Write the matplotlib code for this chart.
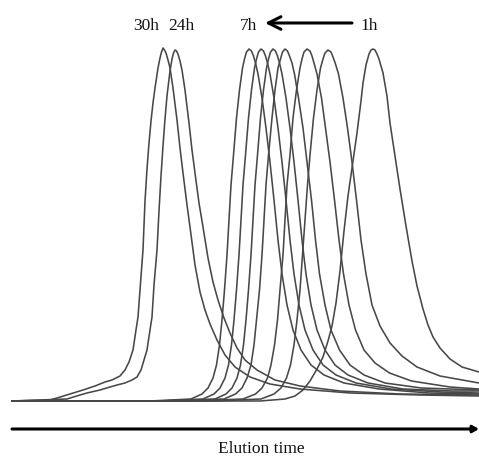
import matplotlib
matplotlib.use("Agg")
import matplotlib.pyplot as plt

# Elution time (arbitrary units) and detector signal (arbitrary units)
t_30h = [12, 50, 57, 70, 83, 95, 105, 112, 120, 125, 129, 133, 136, 138, 140, 143, 145, 147, 149, 151, 153, 155, 158, 160, 161.5, 163,
         164.5, 166, 168, 170, 173, 177, 180, 183, 187, 190, 195, 200, 205, 210, 217, 225, 235, 250, 270, 300, 350, 420, 479]
s_30h = [0, 1, 3, 7, 11, 15, 19, 21, 25, 31, 39, 51, 71, 84, 111, 151, 200, 232, 258, 280, 298, 313, 333, 343, 349, 353,
         351, 348, 341, 333, 313, 281, 253, 228, 196, 174, 136, 109, 91, 77, 61, 46, 34, 24, 17, 12, 8, 6, 5]

t_24h = [12, 67, 80, 87, 100, 110, 117, 125, 132, 137, 141, 144, 147, 150, 152, 154, 157, 159, 161, 163, 165, 167, 170, 172, 173.5, 175,
         176.5, 178, 180, 182, 185, 189, 192, 195, 199, 203, 208, 213, 218, 224, 230, 237, 245, 257, 275, 300, 340, 400, 479]
s_24h = [0, 2, 6, 8, 11, 14, 16, 18, 21, 24, 31, 41, 51, 71, 84, 116, 151, 190, 225, 255, 282, 305, 330, 342, 348, 351,
         350, 347, 340, 331, 311, 278, 251, 228, 198, 174, 143, 119, 101, 83, 68, 53, 41, 31, 21, 15, 10, 7, 6]

t_7h = [12, 150, 191, 202, 208, 213, 216.5, 219.5, 222, 224.5, 227, 229, 231, 233.5, 236.5, 239.5, 242.5, 244.5, 246.5, 249,
        251.5, 253.5, 255.5, 258, 262, 266, 270, 274, 278, 282, 287, 293, 301, 311, 324, 344, 379, 429, 479]
s_7h = [0, 0, 2, 7, 13, 23, 36, 56, 81, 111, 146, 181, 216, 246, 283, 311, 333, 342, 349, 352,
        350, 345, 338, 327, 303, 273, 239, 201, 161, 127, 96, 71, 51, 36, 26, 18, 12, 8, 7]

t_6h = [12, 160, 203, 214, 220, 225, 228.5, 231.5, 234, 236.5, 239, 241, 243, 245.5, 248.5, 251.5, 254.5, 256.5, 258.5, 261,
        263.5, 265.5, 267.5, 270, 274, 278, 282, 286, 290, 294, 299, 305, 313, 323, 336, 356, 391, 441, 479]
s_6h = [0, 0, 2, 7, 13, 23, 36, 56, 81, 111, 146, 181, 216, 246, 283, 311, 333, 342, 349, 352,
        350, 345, 338, 327, 303, 273, 239, 201, 161, 127, 96, 71, 51, 36, 26, 18, 12, 9, 8]

t_5h = [12, 170, 215, 226, 232, 237, 240.5, 243.5, 246, 248.5, 251, 253, 255, 257.5, 260.5, 263.5, 266.5, 268.5, 270.5, 273,
        275.5, 277.5, 279.5, 282, 286, 290, 294, 298, 302, 306, 311, 317, 325, 335, 348, 368, 403, 453, 479]
s_5h = [0, 0, 2, 7, 13, 23, 36, 56, 81, 111, 146, 181, 216, 246, 283, 311, 333, 342, 349, 352,
        350, 345, 338, 327, 303, 273, 239, 201, 161, 127, 96, 71, 51, 36, 26, 18, 12, 10, 10]

t_4h = [12, 180, 224, 235.5, 242, 247, 251, 254, 256.5, 259.5, 262, 264, 266, 268.5, 272, 275, 278, 280.5, 282.5, 285,
        287.5, 289.5, 292, 294.5, 298.5, 303, 307, 311.5, 315.5, 319.5, 325, 331, 339.5, 350, 364, 385, 421.5, 479]
s_4h = [0, 0, 2, 7, 13, 23, 36, 56, 81, 111, 146, 181, 216, 246, 283, 311, 333, 342, 349, 352,
        350, 345, 338, 327, 303, 273, 239, 201, 161, 127, 96, 71, 51, 36, 26, 18, 13, 11]

t_3h = [12, 195, 243, 255.5, 262, 267.5, 271, 274.5, 277.5, 280, 283, 285, 287, 290, 293, 296.5, 300, 302, 304, 307,
        310, 312, 314, 317, 321.5, 325.5, 330, 334.5, 339, 343.5, 349, 355.5, 364, 375, 389.5, 411.5, 450, 479]
s_3h = [0, 0, 2, 7, 13, 23, 36, 56, 81, 111, 146, 181, 216, 246, 283, 311, 333, 342, 349, 352,
        350, 345, 338, 327, 303, 273, 239, 201, 161, 127, 96, 71, 51, 38, 28, 20, 14, 12]

t_2h = [12, 215, 261, 274, 281, 286.5, 290.5, 294, 297, 300, 302.5, 305, 307.5, 310, 313.5, 317, 320.5, 323, 325, 328,
        331, 333, 335.5, 338.5, 343, 347.5, 352, 356.5, 361, 366, 372, 380, 390, 402, 417, 440, 479]
s_2h = [0, 0, 2, 7, 13, 23, 36, 56, 81, 111, 146, 181, 216, 246, 283, 311, 333, 342, 348, 351,
        349, 344, 337, 327, 303, 273, 239, 201, 161, 127, 96, 75, 58, 45, 34, 25, 18]

t_1h = [12, 260, 285, 295, 303, 310, 317, 323, 328, 332, 336, 340, 344, 348, 353, 357, 361, 363, 366, 369, 371, 373,
        375, 377, 379, 383, 387, 390, 395, 400, 406, 412, 417, 423, 428, 433, 440, 450, 462, 479]
s_1h = [0, 0, 2, 5, 11, 20, 32, 44, 60, 75, 98, 130, 170, 205, 240, 268, 300, 318, 336, 347, 351, 352,
        351, 347, 342, 328, 305, 278, 245, 212, 175, 140, 115, 92, 76, 64, 53, 42, 34, 29]

series_t = [t_30h, t_24h, t_7h, t_6h, t_5h, t_4h, t_3h, t_2h, t_1h]
series_s = [s_30h, s_24h, s_7h, s_6h, s_5h, s_4h, s_3h, s_2h, s_1h]

peak_labels = ["30h", "24h", "7h", "1h"]
label_pos = [146, 181, 249, 369]
axis_title = "Elution time"

fig = plt.figure(figsize=(4.79, 4.57), dpi=100)
ax = fig.add_axes([0, 0, 1, 1])
ax.set_xlim(0, 479)
ax.set_ylim(-56, 401)
ax.axis("off")

for t, s in zip(series_t, series_s):
    ax.plot(t, s, color="#484848", lw=1.15, solid_joinstyle="round", solid_capstyle="round")

for lab, xp in zip(peak_labels, label_pos):
    ax.text(xp, 375, lab, ha="center", va="center", fontsize=12.5, family="Liberation Serif", color="#111111")

# arrow from 1h toward 7h
ax.annotate("", xy=(265, 378), xytext=(352, 378),
            arrowprops=dict(arrowstyle="->,head_length=0.9,head_width=0.45", lw=2.2, color="black",
                            shrinkA=0, shrinkB=0))

# elution time axis arrow
ax.annotate("", xy=(479, -28), xytext=(12, -28),
            arrowprops=dict(arrowstyle="-|>,head_length=0.35,head_width=0.2", lw=2.2, color="black",
                            shrinkA=0, shrinkB=0))
ax.text(261, -48, axis_title, ha="center", va="center", fontsize=12.5, family="Liberation Serif", color="#111111")

fig.savefig("out.png", dpi=100)
